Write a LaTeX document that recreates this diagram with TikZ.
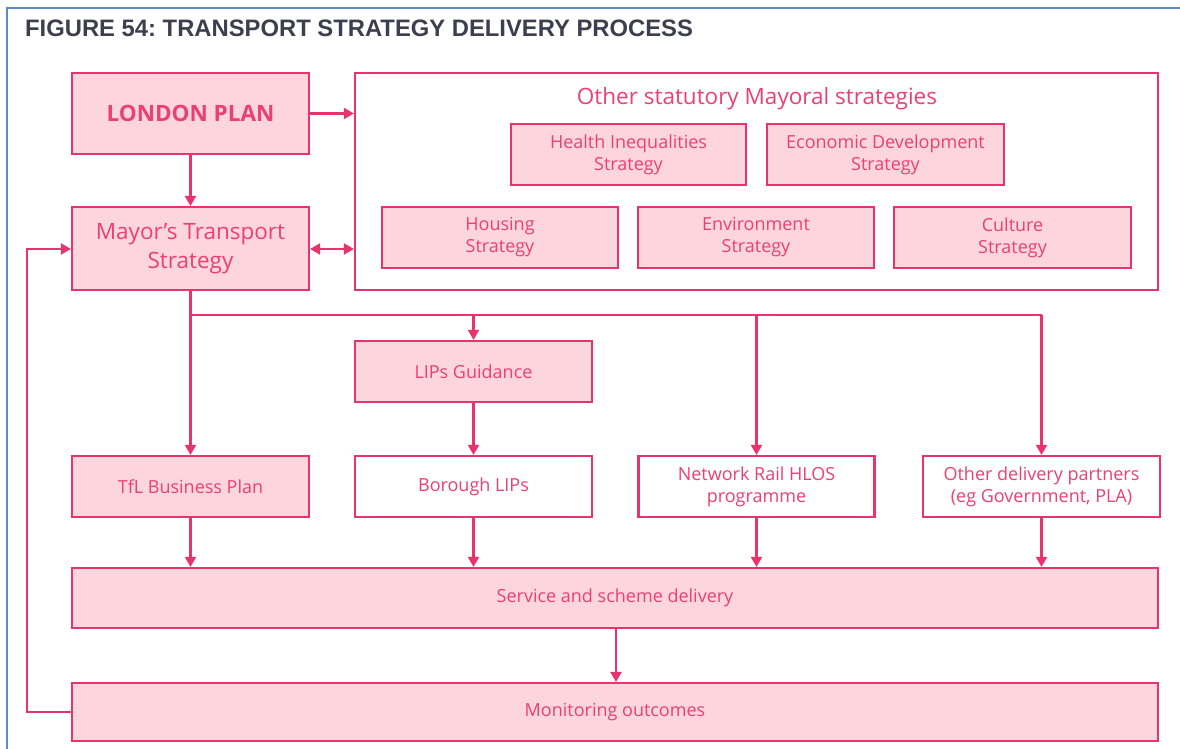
\documentclass[tikz,border=0pt]{standalone}
\usepackage{fontspec}
\setmainfont{Open Sans}
\newfontfamily\titlefont{Liberation Sans}
\usetikzlibrary{arrows.meta}
\frenchspacing
\definecolor{edge}{HTML}{E9336C}
\definecolor{fillpink}{HTML}{FCD6DC}
\definecolor{txtpink}{HTML}{EC3F74}
\definecolor{titlegray}{HTML}{3E3E4E}
\definecolor{framblue}{HTML}{5B8BC9}
\tikzset{
  box/.style={draw=edge, line width=2.2pt, inner sep=2pt, align=center,
    text=txtpink, font=\fontsize{18}{22}\selectfont},
  pinkbox/.style={box, fill=fillpink},
  whitebox/.style={box, fill=white},
  link/.style={draw=edge, line width=2.2pt, -{Triangle[length=10pt,width=11pt]}},
  plain/.style={draw=edge, line width=2.2pt},
  twoway/.style={draw=edge, line width=2.2pt, {Triangle[length=10pt,width=11pt]}-{Triangle[length=10pt,width=11pt]}},
}
\begin{document}
\begin{tikzpicture}[x=1pt,y=-1pt]
\useasboundingbox (0,0) rectangle (1180,749);
\fill[white] (0,0) rectangle (1180,749);
% page frame
\draw[framblue, line width=1.6pt] (7,749) -- (7,8) -- (1180,8);
% heading
\node[anchor=west, text=titlegray, inner sep=0pt,
  font=\titlefont\bfseries\fontsize{23.8}{26}\selectfont] (title) at (25,28)
  {FIGURE 54: TRANSPORT STRATEGY DELIVERY PROCESS};

% upper boxes
\node[pinkbox, minimum width=237pt, minimum height=81pt,
  font=\bfseries\fontsize{22.5}{26}\selectfont] (london) at (190.5,113.5) {LONDON PLAN};
\node[whitebox, minimum width=803pt, minimum height=217pt] (other) at (756.5,181.5) {};
\node[text=txtpink, font=\fontsize{22.5}{26}\selectfont, inner sep=0pt] (othertitle) at (757,99)
  {Other statutory Mayoral strategies};
\node[pinkbox, minimum width=235pt, minimum height=61pt] (health) at (628.5,154.5)
  {Health Inequalities\\Strategy};
\node[pinkbox, minimum width=237pt, minimum height=61pt] (econ) at (885.5,154.5)
  {Economic Development\\Strategy};
\node[pinkbox, minimum width=236pt, minimum height=61pt] (housing) at (500,237.5)
  {Housing\\Strategy};
\node[pinkbox, minimum width=236pt, minimum height=61pt] (env) at (756,237.5)
  {Environment\\Strategy};
\node[pinkbox, minimum width=237pt, minimum height=61pt] (culture) at (1012.5,237.5)
  {Culture\\Strategy};
\node[pinkbox, minimum width=237pt, minimum height=83pt,
  font=\fontsize{22.5}{29}\selectfont] (mts) at (190.5,248.5)
  {Mayor’s Transport\\Strategy};

% middle boxes
\node[pinkbox, minimum width=237pt, minimum height=61pt] (lipsg) at (473.5,371.5) {LIPs Guidance};
\node[pinkbox, minimum width=237pt, minimum height=61pt] (tfl) at (190.5,486.5) {TfL Business Plan};
\node[whitebox, minimum width=237pt, minimum height=61pt] (borough) at (473.5,486.5) {Borough LIPs};
\node[whitebox, minimum width=236pt, minimum height=61pt] (nr) at (756.5,486.5)
  {Network Rail HLOS\\programme};
\node[whitebox, minimum width=237pt, minimum height=61pt] (odp) at (1041.5,486.5)
  {Other delivery partners\\(eg Government, PLA)};

% lower boxes
\node[pinkbox, minimum width=1086pt, minimum height=60pt] (service) at (615,598)
  {Service and scheme delivery};
\node[pinkbox, minimum width=1086pt, minimum height=58pt] (monitor) at (615,712)
  {Monitoring outcomes};

% connectors
\coordinate (busL) at (190.5,315);
\coordinate (busR) at (1041.5,315);
\coordinate (loopB) at (27,712);
\coordinate (loopT) at (27,249);
\draw[link] (london) -- (mts);
\draw[link] (london.east) -- (other.west |- london.east);
\draw[twoway] (mts.east |- 0,249) -- (other.west |- 0,249);
\draw[plain] (mts.south) -- (busL) -- (busR);
\draw[link] (busL) -- (tfl.north);
\draw[link] (lipsg.north |- busL) -- (lipsg.north);
\draw[link] (nr.north |- busL) -- (nr.north);
\draw[link] (busR) -- (odp.north);
\draw[link] (lipsg) -- (borough);
\draw[link] (tfl.south) -- (service.north -| tfl.south);
\draw[link] (borough.south) -- (service.north -| borough.south);
\draw[link] (nr.south) -- (service.north -| nr.south);
\draw[link] (odp.south) -- (service.north -| odp.south);
\draw[link] (service.south -| 616,0) -- (monitor.north -| 616,0);
\draw[link] (monitor.west) -- (loopB) -- (loopT) -- (mts.west |- loopT);
\end{tikzpicture}
\end{document}
